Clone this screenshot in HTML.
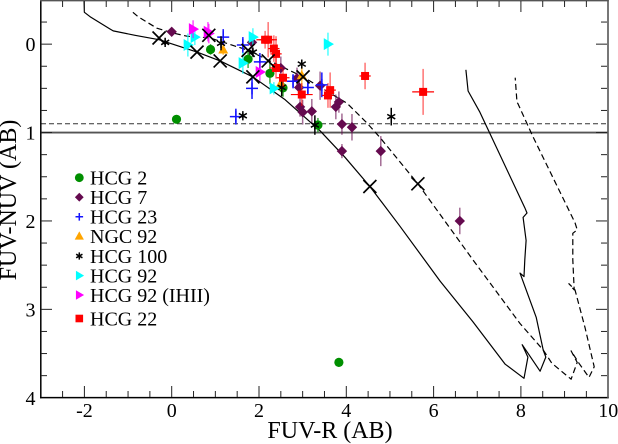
<!DOCTYPE html>
<html lang="en">
<head>
<meta charset="utf-8">
<title>FUV-NUV vs FUV-R colour-colour diagram</title>
<style>
html,body{margin:0;padding:0;background:#fff;}
svg{display:block;}
text{font-family:"Liberation Serif",serif;fill:#000;}
</style>
</head>
<body>
<svg id="chart" xmlns="http://www.w3.org/2000/svg" width="618" height="444" viewBox="0 0 618 444">
<text x="330" y="438" font-size="24" text-anchor="middle">FUV-R (AB)</text>
<text transform="translate(16,200) rotate(-90)" font-size="24" text-anchor="middle">FUV-NUV (AB)</text>
</svg>
<script>
var xTickLabels = [-2, 0, 2, 4, 6, 8, 10];
var yTickLabels = [0, 1, 2, 3, 4];

var solidTrackX = [-2.01,-2.0,-1.87,-1.41,-1.34,-0.84,-0.29,0.58,1.11,1.86,2.6,3.4,3.97,4.54,5.23,6.15,6.9,7.64,8.07,8.16,8.03,8.44,8.57,8.51,8.35,7.98,8.07,8.09,8.12,8.05,8.14,8.09,7.25,7.06,6.79,6.74];
var solidTrackY = [-0.5,-0.36,-0.31,-0.17,-0.15,-0.1,-0.05,0.09,0.19,0.37,0.63,0.98,1.28,1.61,2.06,2.68,3.14,3.62,3.78,3.54,3.4,3.7,3.54,3.46,3.09,2.59,2.63,2.44,2.22,1.96,1.91,1.85,0.97,0.77,0.53,0.29];
var dashedTrackX = [-0.89,-0.77,-0.34,0.0,0.35,0.88,1.75,2.21,3.01,4.02,4.47,4.78,5.64,6.9,7.98,8.51,8.71,9.15,9.29,9.15,9.33,9.56,9.68,9.47,9.24,9.1,9.22,9.19,9.19,9.19,9.29,9.24,8.28,7.93,7.91,7.87];
var dashedTrackY = [-0.36,-0.31,-0.18,-0.13,-0.09,-0.07,0.07,0.18,0.37,0.67,0.89,1.06,1.58,2.44,3.16,3.46,3.61,3.79,3.6,3.47,3.61,3.77,3.65,3.21,2.78,2.71,2.78,2.44,2.22,2.14,2.1,2.02,1.05,0.67,0.66,0.38];

var crossX = [-0.29,0.58,1.11,1.86,4.54,0.85,1.75,2.21,3.01,5.64];
var crossY = [-0.07,0.09,0.19,0.37,1.61,-0.1,0.07,0.19,0.37,1.58];

var limitLineSolid = 1.0;
var limitLineDashed = 0.9;

var hcg2X = [0.11,0.89,1.75,2.25,2.55,3.35,3.83];
var hcg2Y = [0.85,0.06,0.17,0.33,0.495,0.915,3.6];
var hcg2E = [0.03,0.06,0.1,0.12,0.1,0.08,0.05];

var hcg7X = [0,1.84,2.5,2.87,2.92,2.94,3.0,3.21,3.4,3.76,3.83,3.9,4.13,3.9,4.79,6.6];
var hcg7Y = [-0.14,-0.02,0.27,0.385,0.49,0.71,0.77,0.76,0.47,0.71,0.655,0.905,0.94,1.21,1.21,2.0];
var hcg7E = [0.03,0.08,0.13,0.12,0.12,0.11,0.14,0.14,0.16,0.14,0.12,0.12,0.15,0.08,0.17,0.15];

var hcg23X = [1.47,1.63,1.84,1.18,2.02,2.78,3.12,3.44];
var hcg23Y = [0.82,0.01,0.5,-0.08,0.2,0.42,0.49,0.46];
var hcg23E = [0.09,0.09,0.12,0.09,0.1,0.08,0.08,0.14];

var ngc92X = [1.18,2.5,2.98];
var ngc92Y = [0.06,0.44,0.35];
var ngc92E = [0.06,0.08,0.15];

var hcg100X = [1.63,1.13,1.86,2.98,2.52,3.28,5.03,-0.15];
var hcg100Y = [0.81,-0.01,0.09,0.225,0.49,0.915,0.82,-0.02];
var hcg100E = [0.03,0.08,0.04,0.05,0.1,0.11,0.1,0.03];

var hcg92X = [0.37,0.53,1.63,1.86,2.34,3.58];
var hcg92Y = [0.01,-0.08,0.215,-0.08,0.5,0];
var hcg92E = [0.13,0.09,0.12,0.1,0.07,0.13];

var ihiiX = [0.49,0.83,0.85,2.02];
var ihiiY = [-0.17,-0.14,-0.12,0.315];
var ihiiE = [0.1,0.11,0.11,0.1];

var hcg22X = [2.14,2.21,2.34,2.39,2.39,2.55,2.98,3.63,3.58,4.43,5.76];
var hcg22Y = [-0.05,-0.05,0.05,0.11,0.27,0.38,0.57,0.52,0.58,0.36,0.54];
var hcg22E = [0.1,0.2,0.15,0.2,0.12,0.1,0.13,0.2,0.14,0.15,0.26];
var hcg22XE = [0.2,0.2,0.13,0.13,0.15,0.15,0.25,0.13,0.13,0.13,0.25];

var legendLabels = ["HCG 2","HCG 7","HCG 23","NGC 92","HCG 100","HCG 92","HCG 92 (IHII)","HCG 22"];

var NS = "http://www.w3.org/2000/svg";
var svg = document.getElementById("chart");
function X(v){ return 171.7 + 43.65*v; }
function Y(v){ return 44.15 + 88.4*v; }
function mk(tag, attrs, name, parent){
  var el = document.createElementNS(NS, tag);
  for (var k in attrs) el.setAttribute(k, attrs[k]);
  
  
  (parent||svg).appendChild(el);
  return el;
}
function polyPts(xs, ys){
  return xs.map(function(v,i){ return X(v).toFixed(1)+","+Y(ys[i]).toFixed(1); }).join(" ");
}
function marker(kind, cx, cy, s, color, name, parent){
  if (kind==="circle") return mk("circle",{cx:cx,cy:cy,r:s,fill:color},name,parent);
  if (kind==="diamond") return mk("polygon",{points:[cx,cy-s,cx+s,cy,cx,cy+s,cx-s,cy].join(" "),fill:color},name,parent);
  if (kind==="square") return mk("rect",{x:cx-s,y:cy-s,width:2*s,height:2*s,fill:color},name,parent);
  if (kind==="up") return mk("polygon",{points:[cx,cy-s,cx+s,cy+s*0.8,cx-s,cy+s*0.8].join(" "),fill:color},name,parent);
  if (kind==="right") return mk("polygon",{points:[cx+s,cy,cx-s*0.7,cy-s,cx-s*0.7,cy+s].join(" "),fill:color},name,parent);
  if (kind==="plus") return mk("path",{d:"M"+(cx-s)+" "+cy+"H"+(cx+s)+"M"+cx+" "+(cy-s)+"V"+(cy+s),stroke:color,"stroke-width":1.5,fill:"none"},name,parent);
  if (kind==="star"){
    var d = "M"+cx+" "+(cy-s)+"V"+(cy+s);
    var a = s*0.87, b = s*0.5;
    d += "M"+(cx-a)+" "+(cy-b)+"L"+(cx+a)+" "+(cy+b)+"M"+(cx-a)+" "+(cy+b)+"L"+(cx+a)+" "+(cy-b);
    return mk("path",{d:d,stroke:color,"stroke-width":1.5,fill:"none"},name,parent);
  }
}
function series(name, kind, size, color, xs, ys, es, xes, barOpacity){
  var g = mk("g",{},name+"-series");
  xs.forEach(function(v,i){
    var cx = X(v), cy = Y(ys[i]);
    mk("line",{x1:cx,x2:cx,y1:Y(ys[i]-es[i]),y2:Y(ys[i]+es[i]),stroke:color,"stroke-width":1.5,"stroke-opacity":barOpacity},name+"-y-error",g);
    if (xes) mk("line",{x1:X(v-xes[i]),x2:X(v+xes[i]),y1:cy,y2:cy,stroke:color,"stroke-width":1.2},name+"-x-error",g);
    marker(kind,cx,cy,size,color,name+"-point",g);
  });
}

// limit lines
mk("line",{x1:41,x2:608,y1:Y(limitLineSolid),y2:Y(limitLineSolid),stroke:"#555","stroke-width":1.8},"limit-line-solid");
mk("line",{x1:41,x2:608,y1:Y(limitLineDashed),y2:Y(limitLineDashed),stroke:"#333","stroke-width":1,"stroke-dasharray":"5 3"},"limit-line-dashed");

// tracks
mk("polyline",{points:polyPts(solidTrackX,solidTrackY),fill:"none",stroke:"#000","stroke-width":1.2,"stroke-linejoin":"round"},"solid-model-track");
mk("polyline",{points:polyPts(dashedTrackX,dashedTrackY),fill:"none",stroke:"#000","stroke-width":1.2,"stroke-dasharray":"6 3.5","stroke-linejoin":"round"},"dashed-model-track");

// points
series("hcg-2","circle",4.6,"#008f00",hcg2X,hcg2Y,hcg2E,null,0.75);
series("hcg-7","diamond",5.2,"#650a4f",hcg7X,hcg7Y,hcg7E,null,0.6);
series("hcg-23","plus",6,"#1414ff",hcg23X,hcg23Y,hcg23E,null,1);
series("ngc-92","up",5,"#ffa500",ngc92X,ngc92Y,ngc92E,null,0.7);
series("hcg-100","star",4.6,"#000",hcg100X,hcg100Y,hcg100E,null,1);
series("hcg-92","right",6,"#00ffff",hcg92X,hcg92Y,hcg92E,null,0.7);
series("hcg-92-ihii","right",6,"#ff00ff",ihiiX,ihiiY,ihiiE,null,0.7);
series("hcg-22","square",4,"#ff0000",hcg22X,hcg22Y,hcg22E,hcg22XE,0.55);

// crosses
crossX.forEach(function(v,i){
  var cx = X(v), cy = Y(crossY[i]), s = 6.5;
  mk("path",{d:"M"+(cx-s)+" "+(cy-s)+"L"+(cx+s)+" "+(cy+s)+"M"+(cx-s)+" "+(cy+s)+"L"+(cx+s)+" "+(cy-s),stroke:"#000","stroke-width":1.7,fill:"none"},"age-cross-marker");
});

// frame
mk("line",{x1:40.8,x2:40.8,y1:0,y2:398.2,stroke:"#000","stroke-width":1.5},"y-axis-line");
mk("line",{x1:40,x2:608.8,y1:397.6,y2:397.6,stroke:"#000","stroke-width":1.5},"x-axis-line");
mk("line",{x1:40,x2:608.8,y1:0.6,y2:0.6,stroke:"#555","stroke-width":1.6},"top-frame-line");
mk("line",{x1:608,x2:608,y1:0,y2:398,stroke:"#555","stroke-width":1.6},"right-frame-line");

// ticks
var i, v, major, len;
for (i = -6; i <= 20; i++){
  v = i/2; major = (i%4===0); len = major?11:6;
  if (v > -3 && v < 10){
    mk("line",{x1:X(v),x2:X(v),y1:397,y2:397-len,stroke:"#222","stroke-width":1},"x-tick-bottom");
    mk("line",{x1:X(v),x2:X(v),y1:1,y2:1+len,stroke:"#222","stroke-width":1},"x-tick-top");
  }
}
for (i = -2; i <= 16; i++){
  v = i/4; major = (i%4===0); len = major?11:6;
  if (v > -0.5 && v < 4){
    mk("line",{x1:41,x2:41+len,y1:Y(v),y2:Y(v),stroke:"#222","stroke-width":1},"y-tick-left");
    mk("line",{x1:607,x2:607-len,y1:Y(v),y2:Y(v),stroke:"#222","stroke-width":1},"y-tick-right");
  }
}
xTickLabels.forEach(function(v){
  var t = mk("text",{x:X(v),y:417,"font-size":20,"text-anchor":"middle"},"x-tick-label");
  t.textContent = String(v);
});
yTickLabels.forEach(function(v){
  var t = mk("text",{x:35.5,y:Y(v)+7,"font-size":20,"text-anchor":"end"},"y-tick-label");
  t.textContent = String(v);
});

// legend
var legendKinds = ["circle","diamond","plus","up","star","right","right","square"];
var legendSizes = [4.4,4.4,3.8,4.6,3.6,4.8,4.8,3.8];
var legendColors = ["#008f00","#650a4f","#1414ff","#ffa500","#000","#00ffff","#ff00ff","#ff0000"];
var legendRows = [177.7,197.2,216.8,236,256,275.6,295,318.5];
var legendGroup = mk("g",{},"legend");
legendLabels.forEach(function(label,i){
  var row = mk("g",{},"legend-entry",legendGroup);
  marker(legendKinds[i],79.3,legendRows[i],legendSizes[i],legendColors[i],"legend-marker",row);
  var t = mk("text",{x:90,y:legendRows[i]+6.8,"font-size":20},"legend-label",row);
  t.textContent = label;
});
</script>
</body>
</html>
